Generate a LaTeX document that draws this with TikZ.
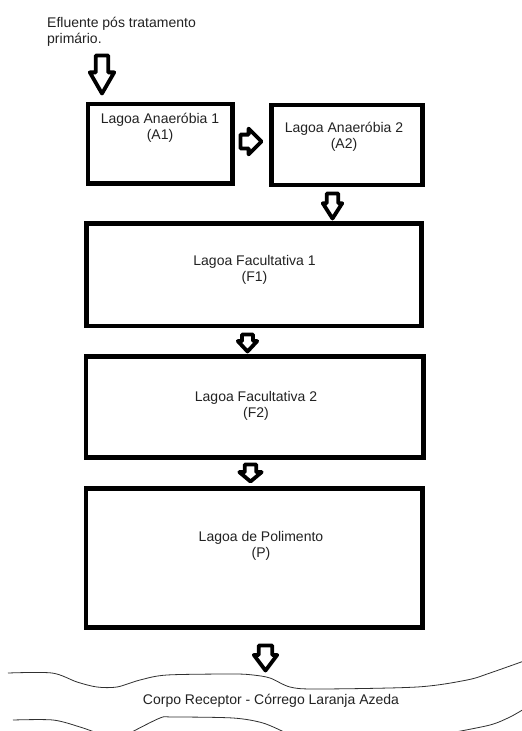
\documentclass[tikz,border=0pt]{standalone}
\usepackage{fontspec}
\setmainfont{Liberation Sans}
\usetikzlibrary{shapes.arrows}
\definecolor{ink}{HTML}{222222}
\definecolor{shore}{HTML}{303030}
\tikzset{
  pond/.style={draw=black, line width=4.5pt, inner sep=0pt, outer sep=0pt},
  lbl/.style={text=ink, align=center, inner sep=0pt,
    font=\fontsize{14}{16}\selectfont},
  % block arrow: half shaft width / head extend / length / tip angle
  flow/.style n args={4}{single arrow, draw=black, fill=white,
    line width=3.8pt, line join=round, inner sep=#1,
    single arrow head extend=#2, minimum height=#3,
    single arrow tip angle=#4, outer sep=0pt, anchor=tip},
  down/.style={shape border rotate=270},
  bank/.style={draw=shore, line width=0.8pt}
}
\begin{document}
\begin{tikzpicture}[x=1pt, y=-1pt]
\useasboundingbox[fill=white] (0,0) rectangle (522,731);

% incoming effluent
\node[lbl, align=left, anchor=north west] (src) at (47,17)
  {Efluente pós tratamento\\primário.};

% ponds
\node[pond, minimum width=144.5pt, minimum height=79.5pt] (a1) at (160.25,143.75) {};
\node[pond, minimum width=150.6pt, minimum height=79.8pt] (a2) at (347,144.9) {};
\node[pond, minimum width=335pt, minimum height=102.7pt] (f1) at (254.2,274.65) {};
\node[pond, minimum width=337.3pt, minimum height=101pt] (f2) at (254.65,407.2) {};
\node[pond, minimum width=336.5pt, minimum height=139.2pt] (p) at (254.25,557.9) {};

\node[lbl] (ta1) at (160,128) {Lagoa Anaeróbia 1\\(A1)};
\node[lbl] (ta2) at (344,136.5) {Lagoa Anaeróbia 2\\(A2)};
\node[lbl] (tf1) at (254.5,270) {Lagoa Facultativa 1\\(F1)};
\node[lbl] (tf2) at (256,405.5) {Lagoa Facultativa 2\\(F2)};
\node[lbl] (tp) at (261,545.5) {Lagoa de Polimento\\(P)};

% flow arrows
\node[flow={4.3pt}{6pt}{38pt}{60}, down] (in0) at (102,93.5) {};
\node[flow={5pt}{6pt}{21pt}{90}] (a12) at (261.5,141.5) {};
\node[flow={3.8pt}{4pt}{25pt}{65}, down] (a2f1) at (332.5,218.5) {};
\node[flow={3.6pt}{4.2pt}{17pt}{86}, down] (f1f2) at (247.5,351.5) {};
\node[flow={3.8pt}{5.5pt}{17pt}{100}, down] (f2p) at (250.5,481.5) {};
\node[flow={4.8pt}{5pt}{25pt}{74}, down] (pr) at (265.5,670.5) {};

% receiving stream banks
\begin{scope}
\clip (0,0) rectangle (522,731);
\draw[bank] plot[smooth, tension=0.5] coordinates {
  (8,673) (52,673) (77,682) (97,687) (117,687) (140,680) (167,675)
  (233,674) (253,675) (270,678) (290,687) (317,689) (417,687)
  (467,680) (490,673) (524,661)};
\draw[bank] plot[smooth, tension=0.5] coordinates {
  (13,720) (53,720) (80,727) (97,733)};
\draw[bank] plot[smooth, tension=0.5] coordinates {
  (130,733) (160,718) (173,717) (233,718) (263,723) (286,733)};
\draw[bank] plot[smooth, tension=0.5] coordinates {
  (450,733) (490,725) (510,717) (524,709)};
\end{scope}

\node[lbl] (stream) at (271,701) {Corpo Receptor - Córrego Laranja Azeda};
\end{tikzpicture}
\end{document}
